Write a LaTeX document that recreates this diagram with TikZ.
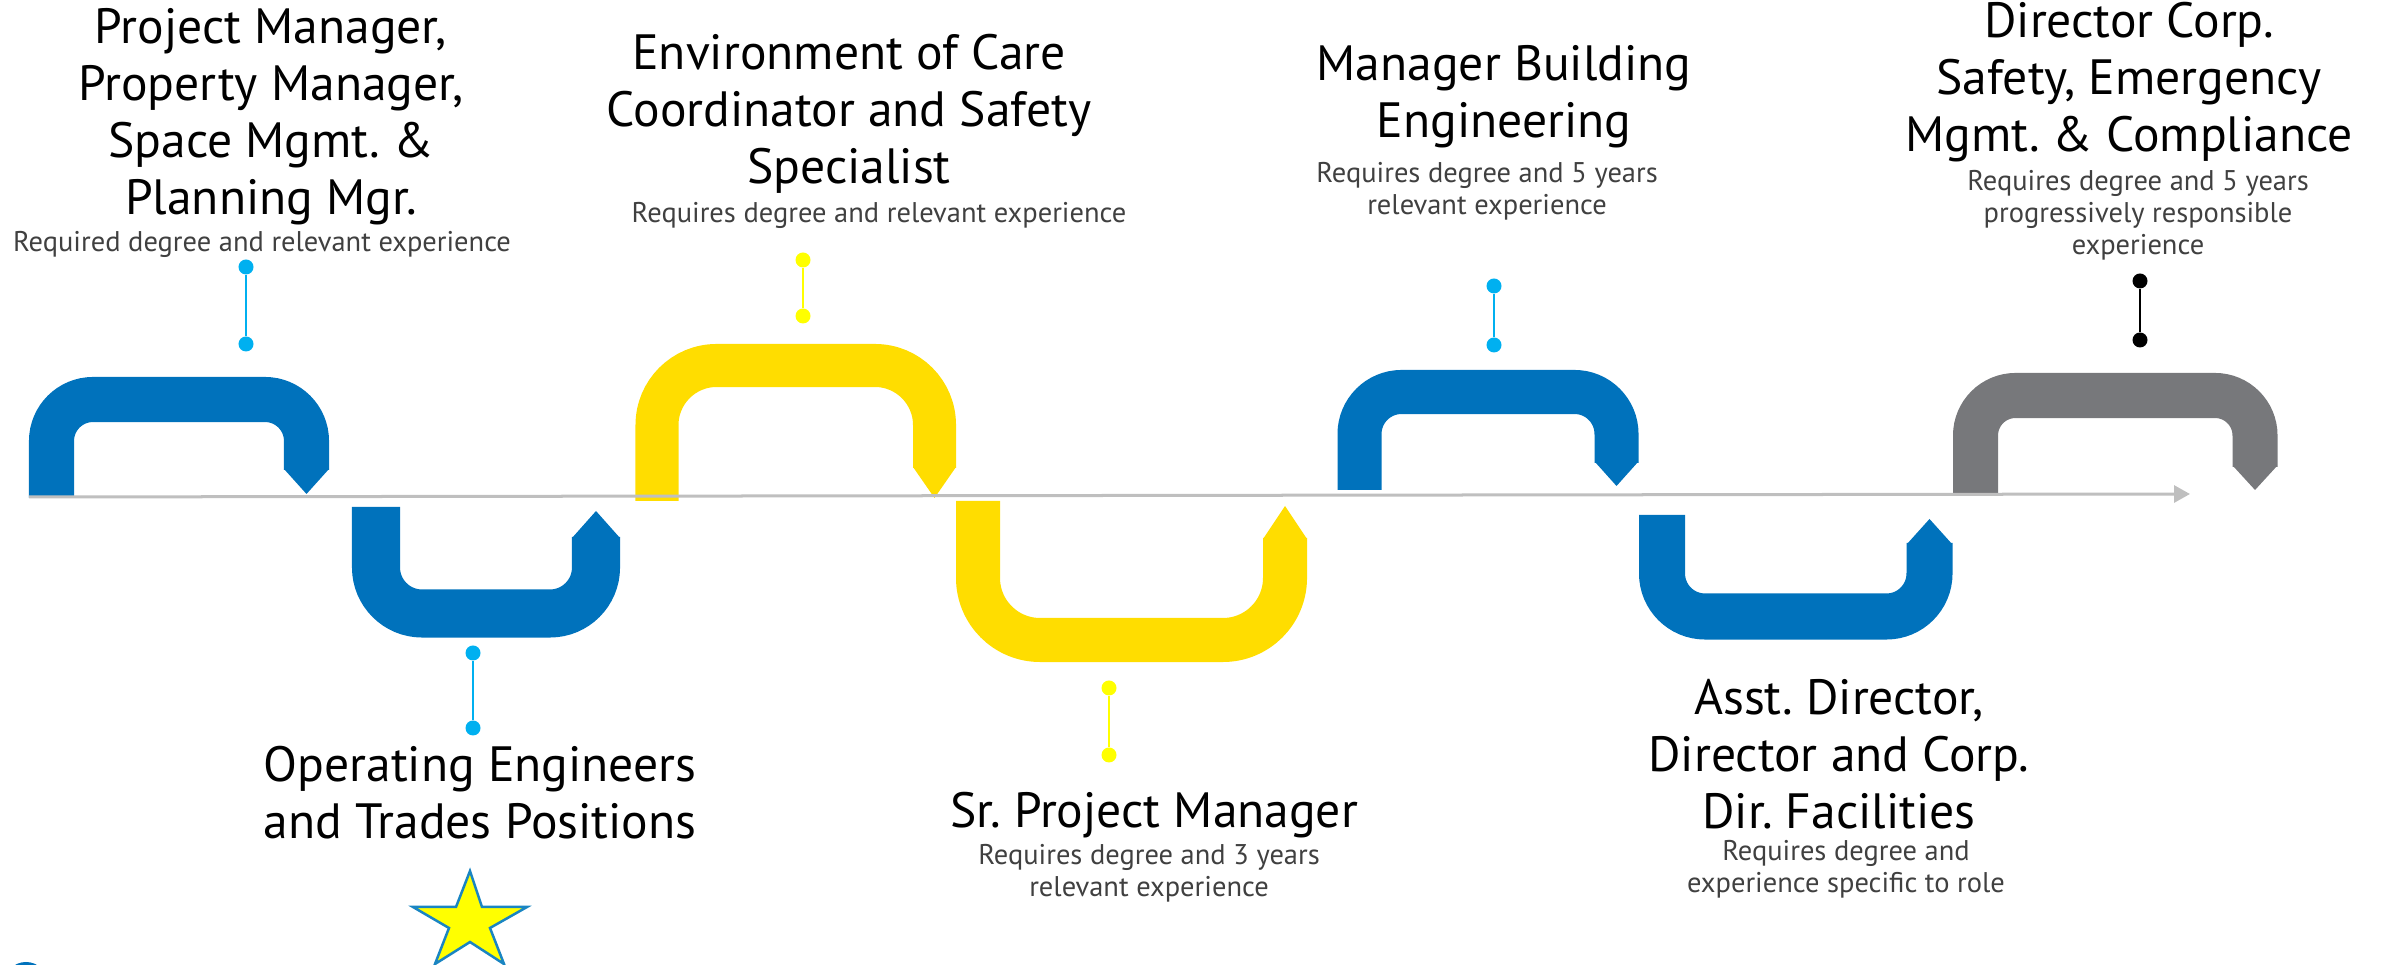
\documentclass[tikz,border=0pt]{standalone}
\usepackage{fontspec}
\setmainfont{PT Sans}
\usetikzlibrary{arrows.meta}
\definecolor{pblue}{HTML}{0072BC}
\definecolor{pyellow}{HTML}{FFDD00}
\definecolor{pgray}{HTML}{77787B}
\definecolor{pinblue}{HTML}{00B0F0}
\definecolor{pinyellow}{HTML}{FFFF00}
\definecolor{axisgray}{HTML}{BFBFBF}
\definecolor{subgray}{HTML}{404040}
\definecolor{starblue}{HTML}{1A85C2}
\frenchspacing
\tikzset{
  band/.style={line cap=butt},
  pin/.style={circle, fill=#1, inner sep=0pt, minimum size=0.15cm},
  title/.style={align=center, anchor=base, inner sep=0pt,
    font=\fontsize{14.1}{16.3}\selectfont},
  note/.style={align=center, anchor=base, inner sep=0pt, text=subgray,
    font=\fontsize{8.1}{9.1}\selectfont}
}
\begin{document}
\begin{tikzpicture}[x=0.01cm, y=-0.01cm]
\useasboundingbox (0,0) rectangle (2382,965);
\draw[band, pblue, line width=0.45cm, rounded corners=0.415cm] (51.5,498) -- (51.5,399.5) -- (306.5,399.5) -- (306.5,470);
\fill[pblue] (284,469) -- (329,469) -- (306.5,494) -- cycle;
\draw[band, pblue, line width=0.48cm, rounded corners=0.46cm] (376,507) -- (376,613.5) -- (596,613.5) -- (596,537);
\fill[pblue] (572,538) -- (620,538) -- (596,511) -- cycle;
\draw[band, pyellow, line width=0.43cm, rounded corners=0.595cm] (657,501) -- (657,365.5) -- (934.5,365.5) -- (934.5,468);
\fill[pyellow] (913,467) -- (956,467) -- (934.5,498) -- cycle;
\draw[band, pyellow, line width=0.44cm, rounded corners=0.62cm] (978,501) -- (978,640) -- (1285,640) -- (1285,538);
\fill[pyellow] (1263,539) -- (1307,539) -- (1285,506) -- cycle;
\draw[band, pblue, line width=0.44cm, rounded corners=0.42cm] (1359.5,490) -- (1359.5,392) -- (1616.5,392) -- (1616.5,463);
\fill[pblue] (1595,462) -- (1638,462) -- (1616.5,486) -- cycle;
\draw[band, pblue, line width=0.46cm, rounded corners=0.43cm] (1662,515) -- (1662,616.5) -- (1929.5,616.5) -- (1929.5,543);
\fill[pblue] (1907,544) -- (1952,544) -- (1929.5,519) -- cycle;
\draw[band, pgray, line width=0.45cm, rounded corners=0.40cm] (1975.5,494) -- (1975.5,395.5) -- (2255,395.5) -- (2255,467);
\fill[pgray] (2233,466) -- (2277,466) -- (2255,490) -- cycle;
\coordinate (axl) at (29,497);
\coordinate (axr) at (2190,494);
\draw[axisgray, line width=0.03cm, -{Triangle[length=0.16cm, width=0.17cm]}] (axl) -- (axr);
\foreach \n/\x/\ya/\yb/\c in {p1/246/267/344/pinblue, p2/803/260/316/pinyellow,
  p3/1494/286/345/pinblue, p4/2140/281/340/black, p5/473/653/728/pinblue,
  p6/1109/688/755/pinyellow}
{
  \node[pin=\c] (\n-a) at (\x,\ya) {};
  \node[pin=\c] (\n-b) at (\x,\yb) {};
  \draw[\c, line width=0.02cm] (\n-a) -- (\n-b);
}
\filldraw[fill=pinyellow, draw=starblue, line width=0.025cm] (470,871) -- (482,907) -- (527,907) -- (490,928) -- (504,964) -- (470,942) -- (435,964) -- (449,928) -- (413,907) -- (456,907) -- cycle;
\fill[pblue] (26,984) circle (22);
\node[title] (t1) at (271,215) {Project Manager,\\Property Manager,\\Space Mgmt. \&\\Planning Mgr.};
\node[note] (s1) at (262,252) {Required degree and relevant experience};
\node[title] (t2) at (849,184) {Environment of Care\\Coordinator and Safety\\Specialist};
\node[note] (s2) at (879,223) {Requires degree and relevant experience};
\node[title] (t3) at (1504,138) {Manager Building\\Engineering};
\node[note] (s3) at (1487,215) {Requires degree and 5 years\\relevant experience};
\node[title] (t4) at (2129,152) {Director Corp.\\Safety, Emergency\\Mgmt. \& Compliance};
\node[note] (s4) at (2138,255) {Requires degree and 5 years\\progressively responsible\\experience};
\node[title] (t5) at (480,839) {Operating Engineers\\and Trades Positions};
\node[title] (t6) at (1154,828) {Sr. Project Manager};
\node[note] (s6) at (1149,897) {Requires degree and 3 years\\relevant experience};
\node[title] (t7) at (1839,829) {Asst. Director,\\Director and Corp.\\Dir. Facilities};
\node[note] (s7) at (1846,893) {Requires degree and\\experience specific to role};
\end{tikzpicture}
\end{document}
